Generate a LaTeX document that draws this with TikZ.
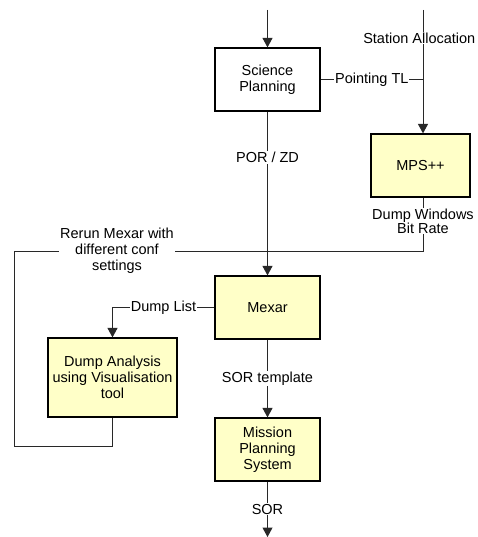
\documentclass[tikz,border=0pt]{standalone}
\usepackage{fontspec}
\setmainfont{Liberation Sans}
\usetikzlibrary{arrows.meta}
\definecolor{boxyellow}{RGB}{255,255,200}
\definecolor{linegray}{RGB}{40,40,40}
\tikzset{
  x=1pt, y=-1pt,
  txt/.style={font=\fontsize{14.5}{16}\selectfont, align=center},
  plainbox/.style={txt, draw=black, line width=1.2pt, minimum width=105pt, minimum height=63pt, inner sep=1pt},
  ybox/.style={plainbox, fill=boxyellow},
  lbl/.style={txt, fill=white, inner sep=1pt},
  conn/.style={draw=linegray, line width=1pt},
  arr/.style={conn, -{Triangle[width=10pt,length=9.5pt]}}
}
\begin{document}
\begin{tikzpicture}
\useasboundingbox (0,0) rectangle (477,537);
\clip (0,0) rectangle (477,537);
\fill[white] (0,0) rectangle (477,537);

\node[plainbox] (sp) at (267.5,79.5) {Science\\Planning};
\node[ybox, minimum width=99pt] (mps) at (420.5,165.5) {MPS++};
\node[ybox] (mex) at (267.5,307.5) {Mexar};
\node[ybox, minimum width=129pt, minimum height=79pt] (da) at (112.5,377.5) {Dump Analysis\\using Visualisation\\tool};
\node[ybox] (mps2) at (267.5,449.5) {Mission\\Planning\\System};

\coordinate (in1) at (267.5,10);
\coordinate (in2) at (423,10);
\coordinate (out) at (267.5,537);
\coordinate (r1) at (423,251);
\coordinate (r2) at (14,251);
\coordinate (r3) at (14,446);
\coordinate (r4) at (112.5,446);

% inputs
\draw[arr] (in1) -- (sp.north);
\draw[arr] (in2) -- (in2 |- mps.north);
\node[lbl, anchor=east] (sa) at (476.5,38) {Station Allocation};

% Pointing TL
\draw[conn] (sp.east) -- node[lbl] (ptl) {Pointing TL} (sp.east -| in2);

% POR / ZD
\draw[arr] (sp.south) -- node[lbl, pos=0.28] (por) {POR / ZD} (mex.north);

% rerun loop
\draw[conn] (mps.south -| in2) -- (r1) -- (r2) -- (r3) -- (r4) -- (da.south);
\node[lbl, font=\fontsize{14.5}{14}\selectfont] (dw) at (423,221) {Dump Windows\\Bit Rate};
\node[lbl] (rr) at (117,251) {Rerun Mexar with\\different conf\\settings};

% Dump list
\draw[arr] (mex.west) -| node[lbl, pos=0.25] (dl) {Dump List} (da.north);

% SOR template
\draw[arr] (mex.south) -- node[lbl] (sort) {SOR template} (mps2.north);

% SOR
\draw[arr] (mps2.south) -- node[lbl] (sor) {SOR} (out);
\end{tikzpicture}
\end{document}
